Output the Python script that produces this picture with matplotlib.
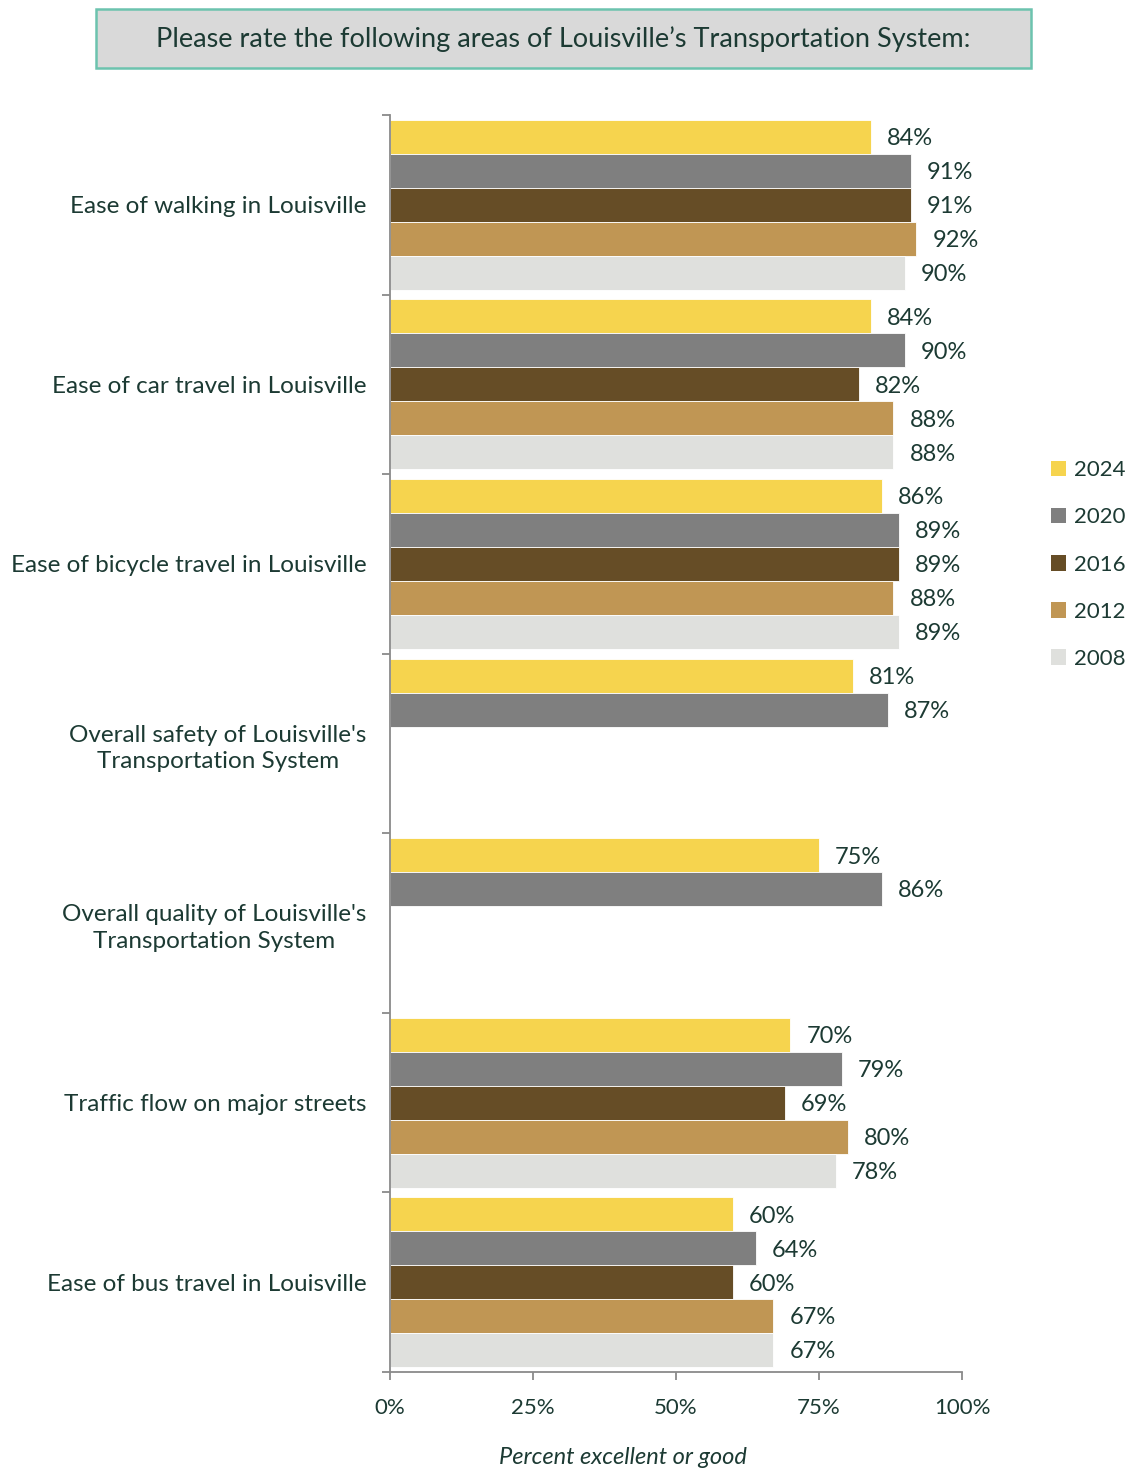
import numpy as np
import matplotlib.pyplot as plt
from matplotlib.patches import FancyBboxPatch

plt.rcParams['font.family'] = ['Lato', 'DejaVu Sans']
txt = '#1c3a33'

categories = ['Ease of walking in Louisville',
              'Ease of car travel in Louisville',
              'Ease of bicycle travel in Louisville',
              "Overall safety of Louisville's\nTransportation System",
              "Overall quality of Louisville's\nTransportation System",
              'Traffic flow on major streets',
              'Ease of bus travel in Louisville']
years = ['2024', '2020', '2016', '2012', '2008']
colors = ['#f6d44e', '#7f7f7f', '#664d26', '#c09654', '#dfe0dd']

# one list per survey year, None where the question wasn't asked
y2024 = [84, 84, 86, 81, 75, 70, 60]
y2020 = [91, 90, 89, 87, 86, 79, 64]
y2016 = [91, 82, 89, None, None, 69, 60]
y2012 = [92, 88, 88, None, None, 80, 67]
y2008 = [90, 88, 89, None, None, 78, 67]
series = [y2024, y2020, y2016, y2012, y2008]

fig = plt.figure(figsize=(11.33, 14.72), dpi=100)
ax = fig.add_axes([0.3442, 0.0679, 0.5049, 0.854])

h = 0.189
pos = np.arange(len(categories))
for j, (yr, vals, c) in enumerate(zip(years, series, colors)):
    yy = pos - 2 * h + j * h
    for y, v in zip(yy, vals):
        if v is None:
            continue
        ax.barh(y, v, height=h, color=c, edgecolor='white', linewidth=0.6)
        ax.text(v + 2.8, y + 0.01, f'{v}%', va='center', ha='left', fontsize=17, color=txt)
    ax.barh(0, 0, color=c, label=yr)

ax.set_xlim(0, 100)
ax.set_ylim(len(categories) - 0.5, -0.5)
ax.set_xticks([0, 25, 50, 75, 100])
ax.set_xticklabels(['0%', '25%', '50%', '75%', '100%'], fontsize=16, color=txt)
ax.set_yticks(np.arange(-0.5, len(categories)))
ax.set_yticklabels([])
ax.set_yticks(pos, minor=True)
ax.set_yticklabels(categories, minor=True, fontsize=17.5, color=txt,
                   multialignment='center', linespacing=1.35)
ax.tick_params(axis='y', which='minor', length=0, pad=17)
ax.tick_params(axis='y', which='major', length=6, color='#8a8a8a', width=1.3)
ax.tick_params(axis='x', length=6, color='#8a8a8a', width=1.3, pad=13)
for s in ['top', 'right']:
    ax.spines[s].set_visible(False)
for s in ['left', 'bottom']:
    ax.spines[s].set_color('#8a8a8a')
    ax.spines[s].set_linewidth(1.3)

fig.text(623 / 1133, 1 - 1457 / 1472, 'Percent excellent or good', ha='center', va='center',
         fontsize=17, style='italic', color=txt)

handles, labels = ax.get_legend_handles_labels()
leg = fig.legend(handles, labels, loc='center left', bbox_to_anchor=(0.9195, 0.6165),
                 frameon=False, fontsize=16, handlelength=0.7, handleheight=0.7,
                 handletextpad=0.35, labelspacing=1.22, borderaxespad=0)
for t in leg.get_texts():
    t.set_color(txt)

# header box
box = FancyBboxPatch((96 / 1133, 1 - 68 / 1472), (1031 - 96) / 1133, 59 / 1472,
                     boxstyle='square,pad=0', transform=fig.transFigure,
                     facecolor='#d9d9d9', edgecolor='#6cc3ae', linewidth=1.8)
fig.patches.append(box)
fig.text(563 / 1133, 1 - 39 / 1472, 'Please rate the following areas of Louisville\u2019s Transportation System:',
         ha='center', va='center', fontsize=19.5, color=txt)

fig.savefig('out.png', dpi=100)
